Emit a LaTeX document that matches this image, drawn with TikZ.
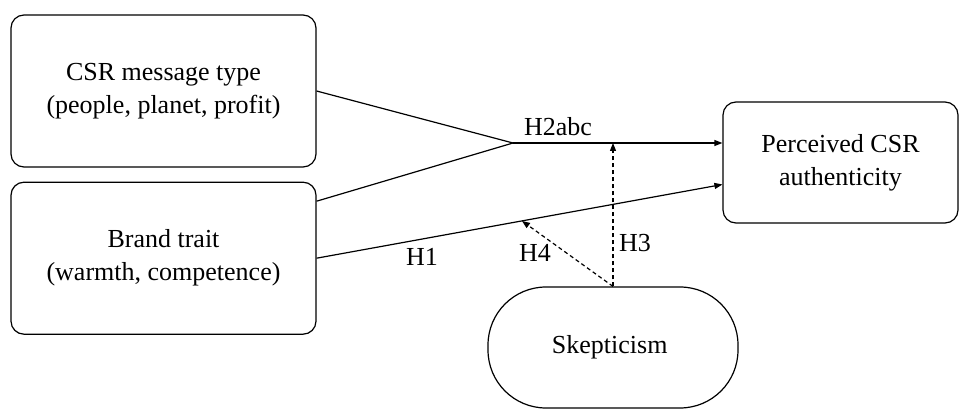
\documentclass[tikz,border=0pt]{standalone}
\usepackage{fontspec}
\setmainfont{Liberation Serif}
\newfontfamily\diagfont{Liberation Serif}
\usepackage{tikz}
\usetikzlibrary{
    arrows.meta,
    positioning,
    calc
}

\begin{document}
\begin{tikzpicture}[
    x=1pt,
    y=1pt,
    font=\diagfont\fontsize{26}{33}\selectfont,
%
    construct/.style={
        draw,
        rounded corners=13pt,
        minimum width=305pt,
        minimum height=152pt,
        align=center,
        line width=1.2pt
    },
%
    outcome/.style={
        construct,
        minimum width=235pt,
        minimum height=121pt
    },
%
    moderator/.style={
        draw,
        rounded corners=58pt,
        minimum width=250pt,
        minimum height=121pt,
        align=center,
        line width=1.2pt
    },
%
    link/.style={
        line width=1.2pt
    },
%
    arrow/.style={
        -{Triangle[length=8pt,width=6pt]},
        line width=1.2pt
    },
%
    dasharrow/.style={
        arrow,
        dash pattern=on 4pt off 3pt
    },
%
    hlabel/.style={
        inner sep=2pt
    }
]
\useasboundingbox (0,0) rectangle (963,410);
%
% Independent variables
%
\node[construct] (csr) at (163.5,319) {
    CSR message type\\
    (people, planet, profit)
};
%
\node[
    construct,
    below=14pt of csr
] (brand) {
    Brand trait\\
    (warmth, competence)
};
%
% Outcome and moderator
%
\node[outcome] (perc) at (840.5,247.5) {
    Perceived CSR\\
    authenticity
};
%
\node[moderator] (skep) at (613,62.5) {
    Skepticism
};
%
% Helper points
%
\coordinate (join) at (513,267);
\coordinate (h1end) at ([yshift=-22pt]perc.west);
\coordinate (h4end) at ($(brand.east)!0.506!(h1end)$);
%
% H2abc interaction
%
\draw[link] (csr.east) -- (join);
\draw[link] ([yshift=57pt]brand.east) -- (join);
\draw[arrow] (join) -- (join -| perc.west);
%
% H1 main effect
%
\draw[arrow] (brand.east) -- (h1end);
%
% Moderation by skepticism
%
\draw[dasharrow] (skep.north) -- (skep.north |- join);
\draw[dasharrow] (skep.north) -- (h4end);
%
% Hypothesis labels
%
\node[hlabel] (lh2) at (558,283) {H2abc};
\node[hlabel] (lh1) at (422,153) {H1};
\node[hlabel] (lh4) at (535,157) {H4};
\node[hlabel] (lh3) at (635,167) {H3};
%
\end{tikzpicture}
\end{document}
